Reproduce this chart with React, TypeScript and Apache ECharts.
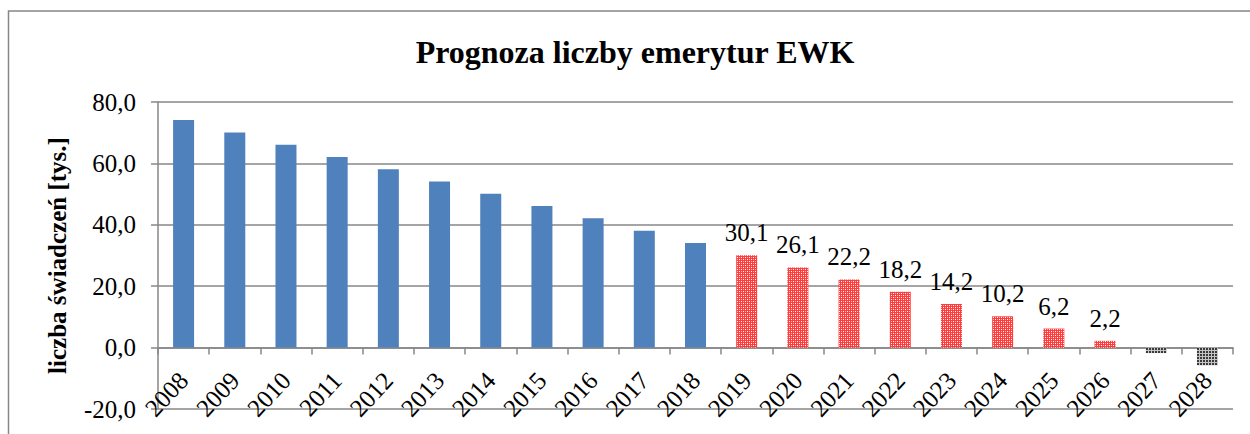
import React, { useEffect, useRef } from "react";
import * as echarts from "echarts";

const titleText = "Prognoza liczby emerytur EWK";
const yAxisTitle = "liczba świadczeń [tys.]";
const years = ["2008","2009","2010","2011","2012","2013","2014","2015","2016","2017","2018","2019","2020","2021","2022","2023","2024","2025","2026","2027","2028"];
const historical = [74.1, 70.1, 66.1, 62.1, 58.1, 54.1, 50.1, 46.1, 42.1, 38.1, 34.1];
const forecast = [30.1, 26.1, 22.2, 18.2, 14.2, 10.2, 6.2, 2.2];
const negative = [-1.8, -5.8];
const yTicks = [-20, 0, 20, 40, 60, 80];

const SERIF = "Liberation Serif";
const GRAY = "#878787";

function makeDotTile(bg: string, dot: string, dot2: string) {
  const c = document.createElement("canvas");
  c.width = 4;
  c.height = 4;
  const ctx = c.getContext("2d")!;
  ctx.fillStyle = bg;
  ctx.fillRect(0, 0, 4, 4);
  ctx.fillStyle = dot;
  ctx.fillRect(1, 1, 1, 1);
  ctx.fillRect(3, 3, 1, 1);
  ctx.fillStyle = dot2;
  ctx.fillRect(3, 1, 1, 1);
  ctx.fillRect(1, 3, 1, 1);
  return c;
}

function makeGridTile(line: string, block: string) {
  const c = document.createElement("canvas");
  c.width = 3;
  c.height = 3;
  const ctx = c.getContext("2d")!;
  ctx.fillStyle = line;
  ctx.fillRect(0, 0, 3, 3);
  ctx.fillStyle = block;
  ctx.fillRect(0, 0, 2, 2);
  return c;
}

const fmt = (v: number) => v.toFixed(1).replace(".", ",");

export default function App() {
  const ref = useRef<HTMLDivElement>(null);
  useEffect(() => {
    if (!ref.current) return;
    const chart = echarts.init(ref.current, undefined, { renderer: "svg" });
    const redTile = makeDotTile("#ff3c3c", "#ffffff", "#ffb4b4");
    const darkTile = makeGridTile("#c4c4c4", "#3a3a3a");
    const redPattern: any = { image: redTile, repeat: "repeat", imageWidth: 4, imageHeight: 4 };
    const darkPattern: any = { image: darkTile, repeat: "repeat", imageWidth: 3, imageHeight: 3 };

    const data: any[] = [];
    historical.forEach((v) => data.push({ value: v, itemStyle: { color: "#4f81bd" }, label: { show: false } }));
    forecast.forEach((v) => data.push({ value: v, itemStyle: { color: redPattern }, label: { show: true } }));
    negative.forEach((v) => data.push({ value: v, itemStyle: { color: darkPattern }, label: { show: false } }));

    chart.setOption({
      animation: false,
      backgroundColor: "#ffffff",
      graphic: [
        {
          type: "rect",
          shape: { x: 8.5, y: 11, width: 1400, height: 600 },
          style: { fill: "none", stroke: GRAY, lineWidth: 1.5 },
          silent: true,
          z: -1,
        },
        {
          type: "text",
          x: 635,
          y: 52,
          style: {
            text: titleText,
            font: `bold 32px ${SERIF}`,
            fill: "#000",
            textAlign: "center",
            textVerticalAlign: "middle",
          },
        },
      ],
      grid: { left: 158, right: 17, top: 102, bottom: 25, containLabel: false, outerBoundsMode: "none" },
      xAxis: {
        type: "category",
        data: years,
        boundaryGap: true,
        axisLine: { show: true, onZero: true, lineStyle: { color: GRAY, width: 1.5 } },
        axisTick: { show: true, interval: 0, length: 7, lineStyle: { color: GRAY, width: 1.5 } },
        axisLabel: {
          interval: 0,
          rotate: 47,
          margin: -33,
          color: "#000",
          fontFamily: SERIF,
          fontSize: 25,
          hideOverlap: false,
        },
        splitLine: { show: false },
      },
      yAxis: {
        type: "value",
        min: yTicks[0],
        max: yTicks[yTicks.length - 1],
        interval: 20,
        name: yAxisTitle,
        nameLocation: "middle",
        nameGap: 88,
        nameTextStyle: { fontFamily: SERIF, fontSize: 25, fontWeight: "bold", color: "#000" },
        axisLine: { show: true, lineStyle: { color: GRAY, width: 1.5 } },
        axisTick: { show: true, length: 7, lineStyle: { color: GRAY, width: 1.5 } },
        axisLabel: { formatter: fmt, margin: 22, color: "#000", fontFamily: SERIF, fontSize: 25 },
        splitLine: { show: true, lineStyle: { color: GRAY, width: 1.5 } },
      },
      series: [
        {
          type: "bar",
          data,
          barWidth: 21,
          label: {
            position: "top",
            distance: 10,
            formatter: (p: any) => fmt(p.value),
            color: "#000",
            fontFamily: SERIF,
            fontSize: 25,
          },
        },
      ],
    });
    return () => chart.dispose();
  }, []);
  return (
    <div
      ref={ref}
      style={{ position: "absolute", left: 0, top: 0, width: 1250, height: 434, background: "#fff" }}
    />
  );
}
